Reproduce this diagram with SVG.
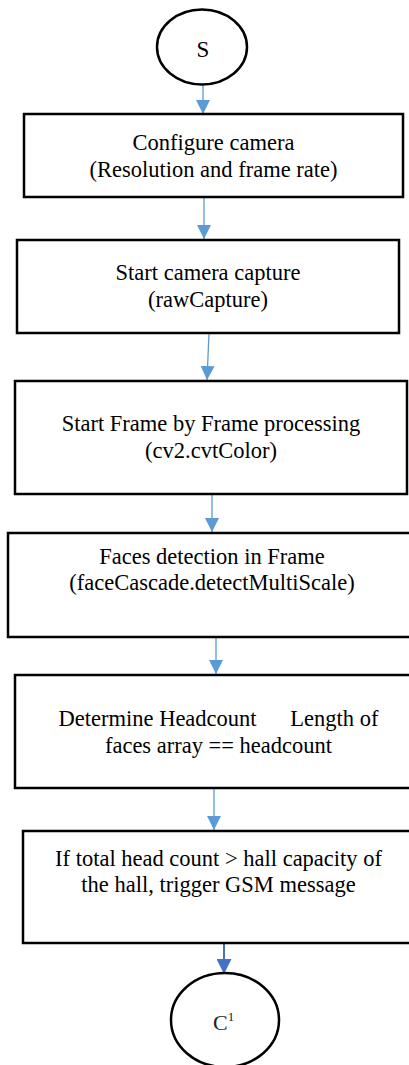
<svg xmlns="http://www.w3.org/2000/svg" width="409" height="1065" viewBox="0 0 409 1065">
<defs>
<style>
.box{fill:#fff;stroke:#000;stroke-width:2.5}
.term{fill:#fff;stroke:#000;stroke-width:2.5}
.t{font-family:"Liberation Serif","Times New Roman",serif;font-size:22.5px;fill:#000;text-anchor:middle}
.con{stroke:#5B9BD5;stroke-width:1.3;fill:none}
.con2{stroke:#4472C4;stroke-width:2;fill:none}
</style>
<marker id="ah" markerUnits="userSpaceOnUse" markerWidth="14" markerHeight="15" refX="14" refY="7" orient="auto" viewBox="0 0 14 14">
<path d="M0,0 L14,7 L0,14 Z" fill="#5B9BD5"/>
</marker>
<marker id="ah2" markerUnits="userSpaceOnUse" markerWidth="15" markerHeight="15" refX="15" refY="7.5" orient="auto" viewBox="0 0 15 15">
<path d="M0,0 L15,7.5 L0,15 Z" fill="#4472C4"/>
</marker>
</defs>
<rect width="409" height="1065" fill="#fff"/>
<g id="connectors">
<line class="con" x1="203" y1="85" x2="203" y2="114" marker-end="url(#ah)"/>
<line class="con" x1="204" y1="197" x2="204" y2="239" marker-end="url(#ah)"/>
<line class="con" x1="209" y1="333" x2="207" y2="380" marker-end="url(#ah)"/>
<line class="con" x1="212" y1="494" x2="212" y2="532" marker-end="url(#ah)"/>
<line class="con" x1="216" y1="637" x2="216" y2="674" marker-end="url(#ah)"/>
<line class="con" x1="214" y1="788" x2="214" y2="830" marker-end="url(#ah)"/>
<line class="con2" x1="224" y1="943" x2="224" y2="974" marker-end="url(#ah2)"/>
</g>
<g id="start">
<ellipse class="term" cx="202" cy="47" rx="45" ry="37.5"/>
<text class="t" x="203" y="57" style="font-size:23px">S</text>
</g>
<g id="configure">
<rect class="box" x="24" y="114" width="379" height="83"/>
<text class="t" x="213.5" y="150">Configure camera</text>
<text class="t" x="213.5" y="177">(Resolution and frame rate)</text>
</g>
<g id="capture">
<rect class="box" x="17" y="240" width="382" height="93"/>
<text class="t" x="208" y="280">Start camera capture</text>
<text class="t" x="208" y="307">(rawCapture)</text>
</g>
<g id="processing">
<rect class="box" x="15" y="381" width="392" height="113"/>
<text class="t" x="211" y="431">Start Frame by Frame processing</text>
<text class="t" x="211" y="458">(cv2.cvtColor)</text>
</g>
<g id="detection">
<rect class="box" x="8" y="533" width="410" height="104"/>
<text class="t" x="212" y="564">Faces detection in Frame</text>
<text class="t" x="212" y="590">(faceCascade.detectMultiScale)</text>
</g>
<g id="headcount">
<rect class="box" x="15" y="675" width="410" height="113"/>
<text class="t" x="218.5" y="726" xml:space="preserve" style="white-space:pre">Determine Headcount      Length of</text>
<text class="t" x="218.5" y="753">faces array == headcount</text>
</g>
<g id="trigger">
<rect class="box" x="23" y="831" width="400" height="112"/>
<text class="t" x="218.5" y="866">If total head count &gt; hall capacity of</text>
<text class="t" x="218.5" y="892">the hall, trigger GSM message</text>
</g>
<g id="connector-c1">
<ellipse class="term" cx="225" cy="1020" rx="54" ry="47"/>
<text x="213" y="1030" style="font-family:'Liberation Serif','Times New Roman',serif;font-size:22px;fill:#222">C<tspan dy="-9" style="font-size:13px">1</tspan></text>
</g>
</svg>
